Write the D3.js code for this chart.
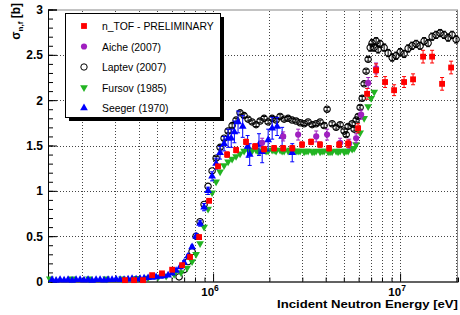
<!DOCTYPE html>
<html>
<head>
<meta charset="utf-8">
<script src="https://cdn.jsdelivr.net/npm/d3@7"></script>
<style>
body { margin: 0; background: #fff; }
text { font-family: "Liberation Sans", Arial, Helvetica, sans-serif; }
</style>
</head>
<body>
<div id="chart"></div>
<script>
// series names as in the legend
var seriesNames = ["n_TOF - PRELIMINARY", "Aiche (2007)", "Laptev (2007)", "Fursov (1985)", "Seeger (1970)"];
var xTickLabels = [1e6, 1e7];
var yTicks = [0, 0.5, 1, 1.5, 2, 2.5, 3];

// [energy eV, sigma b, error b]
var ntof = [
  [3.38e5,0.015,0.01],[3.78e5,0.015,0.01],[4.22e5,0.015,0.01],[4.72e5,0.07,0.01],[5.33e5,0.09,0.01],
  [6.04e5,0.13,0.01],[6.83e5,0.18,0.01],[7.53e5,0.27,0.015],[8.42e5,0.49,0.02],[9.52e5,0.89,0.02],
  [1.063e6,1.27,0.02],[1.188e6,1.40,0.03],[1.327e6,1.45,0.03],[1.50e6,1.54,0.03],[1.677e6,1.49,0.03],
  [1.874e6,1.46,0.03],[2.12e6,1.47,0.03],[2.37e6,1.47,0.03],[2.65e6,1.47,0.03],[2.99e6,1.51,0.03],
  [3.34e6,1.54,0.03],[3.73e6,1.51,0.03],[4.17e6,1.47,0.03],[4.72e6,1.51,0.03],[5.27e6,1.52,0.04],
  [5.96e6,1.69,0.05],[6.66e6,2.07,0.06],[7.44e6,2.33,0.07],[8.31e6,2.20,0.06],[9.29e6,2.11,0.06],
  [1.05e7,2.20,0.06],[1.173e7,2.23,0.06],[1.327e7,2.48,0.07],[1.483e7,2.48,0.07],[1.677e7,2.18,0.07],
  [1.874e7,2.36,0.07]
];

var aiche = [
  [1.83e6,1.53,0.05],[2.37e6,1.60,0.05],[2.85e6,1.62,0.06],[3.56e6,1.60,0.06],[4.07e6,1.62,0.06],
  [4.78e6,1.53,0.05],[5.34e6,1.52,0.05],[5.82e6,1.58,0.05],[6.19e6,1.84,0.05],[6.75e6,2.19,0.06],
  [7.44e6,2.35,0.06]
];

var laptev = [
  [6.58e5,0.05,0.01],[7.00e5,0.13,0.01],[7.35e5,0.22,0.01],[7.72e5,0.33,0.01],[8.11e5,0.50,0.01],
  [8.52e5,0.66,0.01],[8.95e5,0.85,0.01],[9.40e5,1.05,0.01],[9.88e5,1.22,0.01],[1.038e6,1.36,0.02],
  [1.090e6,1.48,0.02],[1.145e6,1.58,0.02],[1.203e6,1.66,0.02],[1.264e6,1.72,0.02],[1.327e6,1.78,0.02],
  [1.394e6,1.86,0.02],[1.465e6,1.83,0.02],[1.539e6,1.79,0.02],[1.616e6,1.76,0.02],[1.698e6,1.73,0.02],
  [1.784e6,1.77,0.02],[1.874e6,1.80,0.02],[1.969e6,1.76,0.02],[2.068e6,1.80,0.02],[2.172e6,1.78,0.02],
  [2.282e6,1.82,0.02],[2.398e6,1.79,0.02],[2.519e6,1.80,0.02],[2.646e6,1.78,0.02],[2.779e6,1.77,0.02],
  [2.920e6,1.75,0.02],[3.067e6,1.74,0.02],[3.222e6,1.76,0.02],[3.385e6,1.73,0.02],[3.556e6,1.74,0.02],
  [3.735e6,1.76,0.02],[3.924e6,1.72,0.02],[4.07e6,1.90,0.02],[4.330e6,1.74,0.02],[4.549e6,1.70,0.02],
  [4.779e6,1.73,0.02],[5.020e6,1.66,0.02],[5.15e6,1.62,0.02],[5.274e6,1.71,0.02],[5.540e6,1.74,0.02],
  [5.68e6,1.68,0.02],[5.820e6,1.78,0.02],[5.97e6,1.82,0.02],[6.114e6,1.92,0.02],[6.27e6,2.02,0.02],
  [6.422e6,2.18,0.02],[6.58e6,2.32,0.02],[6.747e6,2.45,0.02],[6.92e6,2.58,0.04],[7.087e6,2.63,0.04],
  [7.26e6,2.58,0.04],[7.445e6,2.65,0.04],[7.63e6,2.56,0.04],[7.821e6,2.62,0.04],[8.216e6,2.58,0.04],
  [8.631e6,2.52,0.04],[9.067e6,2.47,0.04],[9.525e6,2.49,0.04],[1.0e7,2.53,0.04],[1.051e7,2.51,0.04],
  [1.104e7,2.57,0.04],[1.160e7,2.60,0.04],[1.218e7,2.62,0.04],[1.280e7,2.60,0.04],[1.344e7,2.65,0.04],
  [1.412e7,2.63,0.04],[1.483e7,2.70,0.04],[1.558e7,2.72,0.04],[1.637e7,2.74,0.04],[1.719e7,2.72,0.04],
  [1.806e7,2.69,0.04],[1.897e7,2.72,0.04],[1.993e7,2.67,0.04]
];

var fursov = [
  [1.34e5,0.03],[1.76e5,0.03],[2.17e5,0.03],[2.68e5,0.03],[3.26e5,0.03],[3.92e5,0.035],[4.49e5,0.04],
  [5.08e5,0.05],[5.61e5,0.06],[6.19e5,0.08],[6.74e5,0.10],[7.26e5,0.15],[7.72e5,0.22],[8.11e5,0.30],
  [8.52e5,0.42],[8.95e5,0.60],[9.40e5,0.80],[9.88e5,0.98],[1.038e6,1.10],[1.090e6,1.21],[1.145e6,1.28],
  [1.203e6,1.32],[1.264e6,1.35],[1.327e6,1.38],[1.394e6,1.41],[1.465e6,1.44],[1.539e6,1.45],[1.577e6,1.45],
  [1.616e6,1.44],[1.698e6,1.45],[1.74e6,1.44],[1.784e6,1.44],[1.874e6,1.45],[1.92e6,1.44],[1.969e6,1.44],
  [2.068e6,1.45],[2.12e6,1.45],[2.172e6,1.44],[2.282e6,1.45],[2.34e6,1.44],[2.398e6,1.44],[2.519e6,1.44],
  [2.58e6,1.45],[2.646e6,1.45],[2.779e6,1.44],[2.85e6,1.44],[2.920e6,1.44],[3.067e6,1.43],[3.14e6,1.44],
  [3.222e6,1.44],[3.385e6,1.43],[3.47e6,1.43],[3.556e6,1.44],[3.735e6,1.43],[3.83e6,1.44],[3.924e6,1.44],
  [4.122e6,1.43],[4.22e6,1.43],[4.330e6,1.43],[4.549e6,1.44],[4.66e6,1.43],[4.779e6,1.44],[5.020e6,1.43],
  [5.14e6,1.44],[5.274e6,1.44],[5.540e6,1.46],[5.68e6,1.47],[5.820e6,1.51],[6.114e6,1.64],[6.422e6,1.80],
  [6.747e6,1.93],[7.0e6,2.02],[7.27e6,2.09]
];

var seeger = [
  [1.377e5,0.02,0.01],[1.447e5,0.01,0.01],[1.520e5,0.02,0.01],[1.597e5,0.015,0.01],[1.677e5,0.02,0.01],
  [1.762e5,0.01,0.01],[1.851e5,0.02,0.01],[1.944e5,0.02,0.01],[2.042e5,0.015,0.01],[2.146e5,0.02,0.01],
  [2.254e5,0.01,0.01],[2.367e5,0.02,0.01],[2.487e5,0.02,0.01],[2.613e5,0.015,0.01],[2.745e5,0.02,0.01],
  [2.883e5,0.02,0.01],[3.029e5,0.025,0.01],[3.182e5,0.02,0.01],[3.343e5,0.02,0.01],[3.511e5,0.025,0.01],
  [3.688e5,0.03,0.01],[3.875e5,0.025,0.01],[4.071e5,0.03,0.01],[4.276e5,0.035,0.01],[4.492e5,0.04,0.01],
  [4.719e5,0.045,0.01],[4.957e5,0.05,0.01],[5.207e5,0.055,0.01],[5.470e5,0.06,0.01],[5.746e5,0.07,0.01],
  [6.035e5,0.09,0.01],[6.341e5,0.12,0.01],[6.661e5,0.16,0.01],[6.997e5,0.21,0.02],[7.350e5,0.28,0.02],
  [7.721e5,0.38,0.02],[8.111e5,0.50,0.03],[8.520e5,0.64,0.03],[8.950e5,0.82,0.04],[9.403e5,1.00,0.04],
  [9.878e5,1.16,0.05],[1.0376e6,1.30,0.06],[1.0899e6,1.42,0.07],[1.145e6,1.52,0.08],[1.203e6,1.58,0.10],
  [1.25e6,1.58,0.10],[1.30e6,1.65,0.12],[1.36e6,1.76,0.12],[1.44e6,1.71,0.12],[1.53e6,1.49,0.12],
  [1.57e6,1.40,0.12],[1.76e6,1.51,0.12],[1.83e6,1.43,0.12],[1.97e6,1.56,0.12],[2.07e6,1.69,0.12],
  [2.20e6,1.71,0.10],[2.34e6,1.60,0.10],[2.65e6,1.42,0.10]
];

var W = 460, H = 315;
var svg = d3.select("#chart").append("svg").attr("width", W).attr("height", H);

var x = d3.scaleLog().domain([1.31e5, 2.04e7]).range([48, 458]);
var y = d3.scaleLinear().domain([0, 3]).range([281.5, 9.5]);
var x0 = x.range()[0], x1 = x.range()[1], y0 = y.range()[0], y1 = y.range()[1];

// grid
var grid = svg.append("g").attr("stroke", "#444").attr("stroke-dasharray", "1,2").attr("shape-rendering", "crispEdges");
grid.selectAll(".gx").data(x.ticks().filter(function(d) { return x(d) < x1 - 1; })).enter().append("line")
  .attr("x1", function(d) { return Math.round(x(d)) + 0.5; }).attr("x2", function(d) { return Math.round(x(d)) + 0.5; })
  .attr("y1", y0).attr("y2", y1);
grid.selectAll(".gy").data(yTicks.slice(1, -1)).enter().append("line")
  .attr("x1", x0).attr("x2", x1)
  .attr("y1", function(d) { return Math.round(y(d)) + 0.5; }).attr("y2", function(d) { return Math.round(y(d)) + 0.5; });

// frame
svg.append("rect").attr("x", x0 + 0.5).attr("y", y1 + 0.5).attr("width", x1 - x0 - 1).attr("height", y0 - y1)
  .attr("fill", "none").attr("stroke", "#888");

// y axis, ticks inside
var yAxis = svg.append("g").attr("transform", "translate(" + x0 + ",0)")
  .call(d3.axisLeft(y).tickValues(yTicks).tickSize(-9).tickPadding(5).tickFormat(d3.format("")));
yAxis.selectAll("text").attr("font-size", 12).attr("font-weight", "bold").attr("fill", "#000")
  .style("font-family", "'Liberation Sans', Arial, sans-serif");
yAxis.select(".domain").attr("stroke", "#000");
svg.append("g").attr("transform", "translate(" + x0 + ",0)")
  .call(d3.axisLeft(y).ticks(30).tickSize(-5).tickFormat(""))
  .select(".domain").remove();

// x axis, ticks inside
var xAxis = svg.append("g").attr("transform", "translate(0," + y0 + ")")
  .call(d3.axisBottom(x).tickValues(x.ticks()).tickSize(-4).tickFormat(""));
xAxis.selectAll(".tick line").filter(function(d) { return xTickLabels.indexOf(d) >= 0; }).attr("y2", -8);
xAxis.select(".domain").attr("stroke", "#000");

var xl = svg.append("g").selectAll("text").data(xTickLabels).enter().append("text")
  .attr("x", function(d) { return x(d) - 3; }).attr("y", 296)
  .attr("text-anchor", "middle").attr("font-size", 11.5).attr("font-weight", "bold");
xl.append("tspan").text("10");
xl.append("tspan").attr("dy", -5).attr("font-size", 8.5).text(function(d) { return Math.round(Math.log10(d)); });

svg.append("text").attr("x", x1).attr("y", 308).attr("text-anchor", "end")
  .attr("font-size", 11.5).attr("font-weight", "bold")
  .attr("textLength", 181).attr("lengthAdjust", "spacingAndGlyphs")
  .text("Incident Neutron Energy [eV]");

var yt = svg.append("text").attr("transform", "translate(20,3) rotate(-90)").attr("text-anchor", "end")
  .attr("font-size", 12).attr("font-weight", "bold");
yt.append("tspan").text("σ");
yt.append("tspan").attr("dy", 3).attr("font-size", 8).text("n,f");
yt.append("tspan").attr("dy", -3).text(" [b]");

// markers
var sym = {
  square: d3.symbol().type(d3.symbolSquare).size(34),
  circle: d3.symbol().type(d3.symbolCircle).size(30),
  ocircle: d3.symbol().type(d3.symbolCircle).size(32),
  tri: d3.symbol().type(d3.symbolTriangle).size(26)
};

function errBars(data, color, cap) {
  var g = svg.append("g").attr("stroke", color).attr("stroke-width", 1);
  data.forEach(function(d) {
    if (y(d[1] - d[2]) - y(d[1] + d[2]) < 3) return;
    var px = x(d[0]);
    g.append("line").attr("x1", px).attr("x2", px).attr("y1", y(d[1] - d[2])).attr("y2", y(d[1] + d[2]));
    g.append("line").attr("x1", px - cap).attr("x2", px + cap).attr("y1", y(d[1] - d[2])).attr("y2", y(d[1] - d[2]));
    g.append("line").attr("x1", px - cap).attr("x2", px + cap).attr("y1", y(d[1] + d[2])).attr("y2", y(d[1] + d[2]));
  });
}

function points(data, path, fill, stroke, rot) {
  svg.append("g").selectAll("path").data(data).enter().append("path")
    .attr("d", path)
    .attr("transform", function(d) { return "translate(" + x(d[0]) + "," + y(d[1]) + ")" + (rot ? " rotate(180)" : ""); })
    .attr("fill", fill).attr("stroke", stroke).attr("stroke-width", stroke === "none" ? 0 : 1.1);
}

var cRed = "#ff0000", cPurple = "#a020c0", cGreen = "#22b422", cBlue = "#0000ff";

errBars(laptev, "#000", 2);
points(laptev, sym.ocircle, "none", "#000");
points(fursov, sym.tri, cGreen, "none", true);
errBars(seeger, cBlue, 2);
points(seeger, sym.tri, cBlue, "none", false);
errBars(aiche, cPurple, 2);
points(aiche, sym.circle, cPurple, "none");
errBars(ntof, cRed, 2);
points(ntof, sym.square, cRed, "none");

// legend
var lg = svg.append("g");
lg.append("rect").attr("x", 69).attr("y", 17).attr("width", 155).attr("height", 104).attr("fill", "#000");
lg.append("rect").attr("x", 65.5).attr("y", 13.5).attr("width", 155).attr("height", 104)
  .attr("fill", "#fff").attr("stroke", "#000");
var legendSyms = [
  { p: sym.square, f: cRed, s: "none", r: false },
  { p: sym.circle, f: cPurple, s: "none", r: false },
  { p: sym.ocircle, f: "none", s: "#000", r: false },
  { p: sym.tri, f: cGreen, s: "none", r: true },
  { p: sym.tri, f: cBlue, s: "none", r: false }
];
var rowY = d3.scalePoint().domain(seriesNames).range([26, 108]);
var row = lg.selectAll(".row").data(seriesNames).enter().append("g")
  .attr("transform", function(d) { return "translate(0," + rowY(d) + ")"; });
row.append("path")
  .attr("d", function(d, i) { return legendSyms[i].p(); })
  .attr("transform", function(d, i) { return "translate(84,0)" + (legendSyms[i].r ? " rotate(180)" : ""); })
  .attr("fill", function(d, i) { return legendSyms[i].f; })
  .attr("stroke", function(d, i) { return legendSyms[i].s; });
row.append("text").attr("x", 102).attr("y", 4).attr("font-size", 10.4).text(function(d) { return d; });
</script>
</body>
</html>
